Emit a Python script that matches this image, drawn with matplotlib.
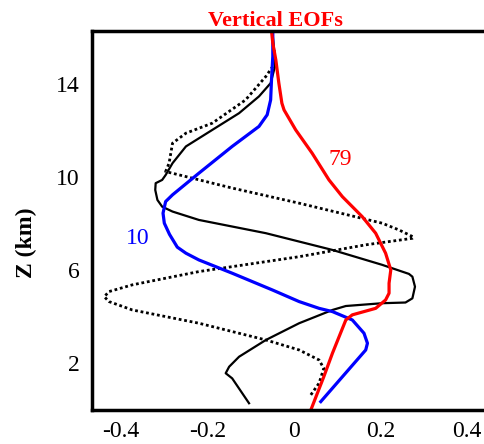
import matplotlib.pyplot as plt
import numpy as np

# EOF profiles: (value, height in km)
red_x = [0.039, 0.069, 0.089, 0.12, 0.135, 0.189, 0.212, 0.22, 0.22, 0.224, 0.212, 0.189, 0.158,
         0.112, 0.081, 0.042, 0.004, -0.023, -0.028, -0.035, -0.042, -0.049, -0.052]
red_z = [0.0, 1.43, 2.44, 3.87, 4.09, 4.37, 4.73, 5.02, 5.45, 6.02, 6.74, 7.6, 8.31,
         9.17, 9.89, 11.04, 12.04, 12.9, 13.19, 14.05, 15.05, 15.77, 16.3]

blue_x = [0.062, 0.166, 0.17, 0.162, 0.135, 0.089, 0.058, 0.012, -0.05, -0.143, -0.22, -0.25,
          -0.27, -0.288, -0.3, -0.303, -0.297, -0.281, -0.22, -0.143, -0.081, -0.062, -0.054,
          -0.052, -0.049, -0.049]
blue_z = [0.36, 2.58, 2.87, 3.3, 3.87, 4.23, 4.37, 4.66, 5.16, 5.88, 6.45, 6.74,
          7.0, 7.55, 8.03, 8.46, 8.96, 9.25, 10.18, 11.33, 12.19, 12.69, 13.33,
          14.19, 15.2, 16.3]

black_x = [-0.104, -0.143, -0.158, -0.15, -0.127, -0.065, 0.012, 0.089, 0.12, 0.204, 0.258,
           0.274, 0.28, 0.274, 0.266, 0.204, 0.089, -0.065, -0.22, -0.281, -0.305, -0.316,
           -0.321, -0.32, -0.305, -0.297, -0.281, -0.25, -0.189, -0.127, -0.081, -0.054,
           -0.044, -0.046, -0.05]
black_z = [0.29, 1.36, 1.58, 1.86, 2.29, 3.01, 3.73, 4.3, 4.47, 4.59, 4.62,
           4.8, 5.3, 5.73, 5.85, 6.24, 6.88, 7.6, 8.17, 8.53, 8.74, 9.03,
           9.46, 9.75, 9.89, 10.1, 10.61, 11.33, 12.04, 12.76, 13.48, 14.05,
           14.77, 15.48, 16.3]

dot_x = [0.039, 0.058, 0.069, 0.058, 0.012, -0.065, -0.22, -0.374, -0.428, -0.439, -0.428,
         -0.374, -0.22, 0.012, 0.166, 0.274, 0.277, 0.243, 0.204, 0.012, -0.143, -0.297,
         -0.289, -0.285, -0.281, -0.25, -0.189, -0.112, -0.065, -0.049, -0.046]
dot_z = [0.65, 1.15, 1.79, 2.15, 2.58, 3.01, 3.73, 4.3, 4.66, 4.87, 5.09,
         5.38, 5.95, 6.59, 7.1, 7.38, 7.43, 7.74, 8.03, 8.89, 9.54, 10.25,
         10.61, 11.04, 11.47, 11.9, 12.33, 13.33, 14.34, 14.77, 15.48]

xticks = [-0.4, -0.2, 0, 0.2, 0.4]
xtick_labels = ['-0.4', '-0.2', '0', '0.2', '0.4']
yticks = [2, 6, 10, 14]

plt.rcParams['font.family'] = ['Liberation Serif', 'DejaVu Serif']

fig = plt.figure(figsize=(4.85, 4.44), dpi=100)
ax = fig.add_axes([0.19, 0.0766, 0.81, 0.854])

ax.plot(dot_x, dot_z, color='black', lw=2, linestyle=(0, (1, 1)))
ax.plot(black_x, black_z, color='black', lw=1.6)
ax.plot(blue_x, blue_z, color='blue', lw=2.3)
ax.plot(red_x, red_z, color='red', lw=2.3)

ax.text(0.108, 10.75, '79', color='red', fontsize=17, ha='center', va='center')
ax.text(-0.362, 7.38, '10', color='blue', fontsize=17, ha='center', va='center')

ax.set_xlim(-0.467, 0.442)
ax.set_ylim(0, 16.3)
ax.set_xticks(xticks)
ax.set_xticklabels(xtick_labels)
ax.set_yticks(yticks)
ax.tick_params(length=0, labelsize=17)
ax.tick_params(axis='x', pad=8)
ax.tick_params(axis='y', pad=9)
for s in ['left', 'top', 'bottom']:
    ax.spines[s].set_linewidth(2.5)
ax.spines['right'].set_visible(False)

fig.text(0.567, 0.953, 'Vertical EOFs', color='red', fontsize=16, fontweight='bold',
         ha='center', va='center')
fig.text(0.054, 0.453, 'Z (km)', fontsize=17, fontweight='bold', rotation=90,
         ha='center', va='center')

fig.savefig('out.png', dpi=100)
